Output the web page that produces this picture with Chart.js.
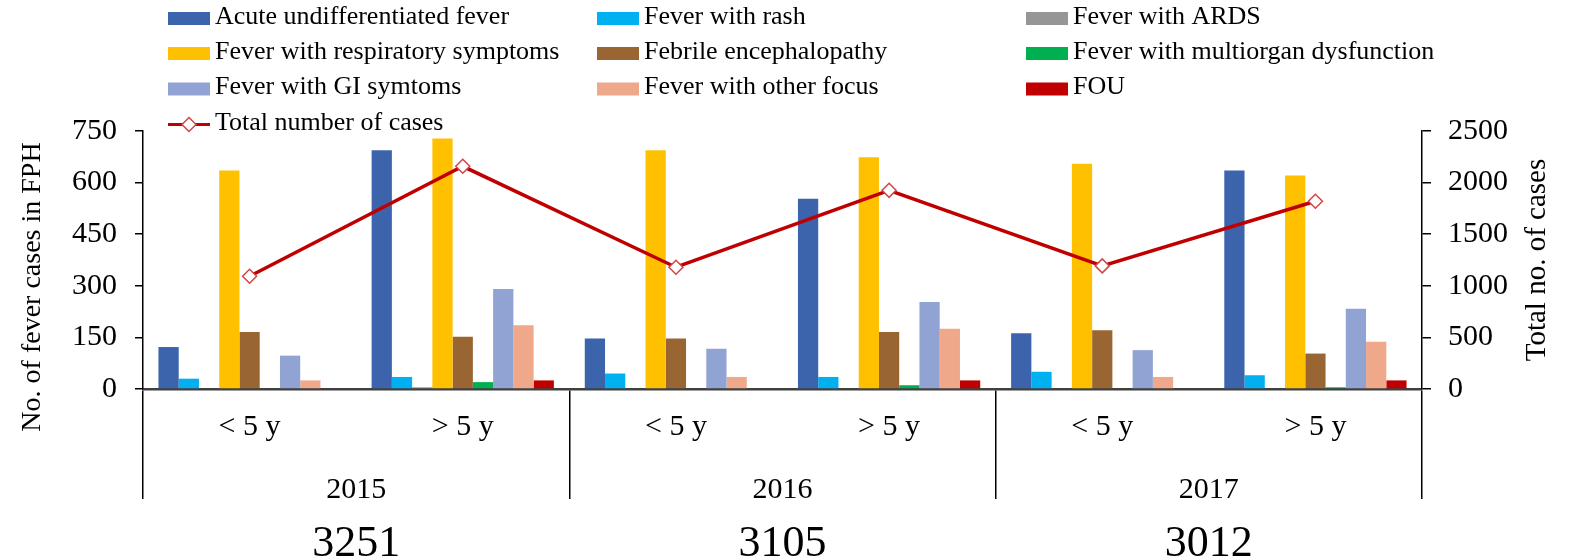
<!DOCTYPE html>
<html>
<head>
<meta charset="utf-8">
<script src="https://cdn.jsdelivr.net/npm/chart.js@4.4.0/dist/chart.umd.min.js"></script>
<style>
  html, body { margin: 0; padding: 0; background: #fff; }
  canvas { display: block; }
</style>
</head>
<body>
<canvas id="feverChart" width="1573" height="556"></canvas>
<script>
// categories
const ageGroups = ['< 5 y', '> 5 y', '< 5 y', '> 5 y', '< 5 y', '> 5 y'];
const years = ['2015', '2016', '2017'];
const yearTotals = ['3251', '3105', '3012'];

// bar series (left axis)
const acuteUndiff = [122, 694, 147, 553, 162, 635];
const withRash = [30, 35, 45, 35, 50, 40];
const withArds = [0, 5, 0, 0, 0, 0];
const respiratory = [635, 728, 694, 674, 655, 621];
const encephalopathy = [166, 152, 147, 166, 171, 103];
const multiorgan = [0, 20, 0, 11, 0, 5];
const giSymptoms = [97, 291, 117, 253, 113, 233];
const otherFocus = [25, 185, 35, 175, 35, 137];
const fou = [0, 25, 0, 25, 0, 25];

// line series (right axis)
const totalCases = [1093, 2158, 1180, 1925, 1193, 1819];

const leftTitle = 'No. of fever cases in FPH';
const rightTitle = 'Total no. of cases';

const serif = "'Liberation Serif', 'Times New Roman', serif";
Chart.defaults.font.family = serif;
Chart.defaults.color = '#000';

const bar = (label, data, color) => ({
  label: label,
  data: data,
  backgroundColor: color,
  xAxisID: 'x',
  yAxisID: 'y',
  barPercentage: 1,
  categoryPercentage: 0.855
});

// legend in 3 fixed columns + rotated axis titles
const extras = {
  id: 'extras',
  afterDraw(chart) {
    const ctx = chart.ctx;
    const cols = [168, 597, 1026];
    const rows = [18.5, 53.5, 89, 124.5];
    ctx.save();
    ctx.textBaseline = 'middle';
    ctx.textAlign = 'left';
    ctx.font = '26px ' + serif;
    chart.data.datasets.forEach((ds, i) => {
      const x = cols[i % 3];
      const y = rows[Math.floor(i / 3)];
      if (ds.type === 'line') {
        ctx.strokeStyle = ds.borderColor;
        ctx.lineWidth = 3;
        ctx.beginPath();
        ctx.moveTo(x, y);
        ctx.lineTo(x + 42, y);
        ctx.stroke();
        const cx = x + 21, r = 7;
        ctx.beginPath();
        ctx.moveTo(cx, y - r);
        ctx.lineTo(cx + r, y);
        ctx.lineTo(cx, y + r);
        ctx.lineTo(cx - r, y);
        ctx.closePath();
        ctx.fillStyle = '#fff';
        ctx.fill();
        ctx.strokeStyle = ds.pointBorderColor;
        ctx.lineWidth = 1.5;
        ctx.stroke();
      } else {
        ctx.fillStyle = ds.backgroundColor;
        ctx.fillRect(x, y - 6.5, 42, 13);
      }
      ctx.fillStyle = '#000';
      ctx.fillText(ds.label, x + 47, y - 1.5);
    });

    ctx.textAlign = 'center';
    ctx.font = '28px ' + serif;
    ctx.save();
    ctx.translate(33, 287);
    ctx.rotate(-Math.PI / 2);
    ctx.fillText(leftTitle, 0, 0);
    ctx.restore();

    ctx.font = '29px ' + serif;
    ctx.save();
    ctx.translate(1537, 260);
    ctx.rotate(-Math.PI / 2);
    ctx.fillText(rightTitle, 0, 0);
    ctx.restore();
    ctx.restore();
  }
};

const ctx = document.getElementById('feverChart').getContext('2d');
new Chart(ctx, {
  type: 'bar',
  data: {
    labels: ageGroups,
    datasets: [
      bar('Acute undifferentiated fever', acuteUndiff, '#3B64AD'),
      bar('Fever with rash', withRash, '#00B0F0'),
      bar('Fever with ARDS', withArds, '#969696'),
      bar('Fever with respiratory symptoms', respiratory, '#FFC000'),
      bar('Febrile encephalopathy', encephalopathy, '#996633'),
      bar('Fever with multiorgan dysfunction', multiorgan, '#00B050'),
      bar('Fever with GI symtoms', giSymptoms, '#91A3D3'),
      bar('Fever with other focus', otherFocus, '#F0A88B'),
      bar('FOU', fou, '#C00000'),
      {
        type: 'line',
        label: 'Total number of cases',
        data: totalCases,
        xAxisID: 'x',
        yAxisID: 'y1',
        order: -1,
        borderColor: '#C00000',
        borderWidth: 3.5,
        tension: 0,
        pointStyle: 'rectRot',
        pointRadius: 7,
        pointBackgroundColor: '#fff',
        pointBorderColor: '#D24545',
        pointBorderWidth: 1.5
      }
    ]
  },
  options: {
    responsive: false,
    animation: false,
    layout: { padding: { top: 131, left: 0, right: 0, bottom: 0 } },
    plugins: {
      legend: { display: false },
      tooltip: { enabled: false }
    },
    scales: {
      x: {
        position: 'bottom',
        weight: 1,
        offset: true,
        grid: {
          offset: true,
          drawOnChartArea: false,
          tickLength: 110,
          lineWidth: 1.5,
          color: c => (c.type === 'tick' && c.index % 2 === 1) ? 'rgba(0,0,0,0)' : '#000'
        },
        border: { color: '#404040', width: 2.5 },
        ticks: { font: { size: 30 }, padding: -90, maxRotation: 0 },
        afterFit: s => { s.height = 72; }
      },
      x2: {
        type: 'category',
        labels: years,
        position: 'bottom',
        weight: 2,
        offset: true,
        grid: { display: false },
        border: { display: false },
        ticks: { font: { size: 30 }, padding: 3, maxRotation: 0 },
        afterFit: s => { s.height = 40; }
      },
      x3: {
        type: 'category',
        labels: yearTotals,
        position: 'bottom',
        weight: 3,
        offset: true,
        grid: { display: false },
        border: { display: false },
        ticks: { font: { size: 44 }, padding: 9, maxRotation: 0 },
        afterFit: s => { s.height = 55; }
      },
      y: {
        position: 'left',
        min: 0,
        max: 750,
        ticks: { stepSize: 150, font: { size: 30 }, padding: 18, callback: v => String(v) },
        grid: { drawOnChartArea: false, tickLength: 8, color: '#000', lineWidth: 1.5 },
        border: { color: '#000', width: 1.5 },
        afterFit: s => { s.width = 143; }
      },
      y1: {
        position: 'right',
        min: 0,
        max: 2500,
        ticks: { stepSize: 500, font: { size: 30 }, padding: 17, callback: v => String(v) },
        grid: { drawOnChartArea: false, tickLength: 9, color: '#000', lineWidth: 1.5 },
        border: { color: '#000', width: 1.5 },
        afterFit: s => { s.width = 151; }
      }
    }
  },
  plugins: [extras]
});
</script>
</body>
</html>
